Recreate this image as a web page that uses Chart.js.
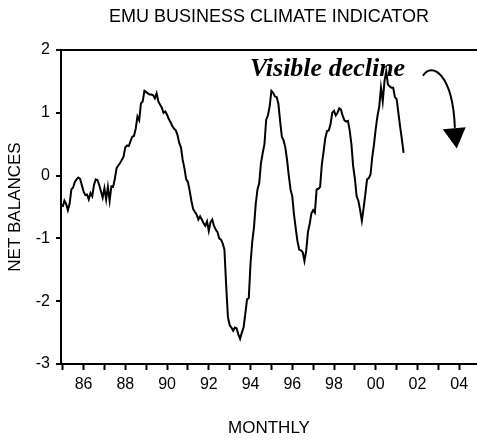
<!DOCTYPE html>
<html>
<head>
<meta charset="utf-8">
<script src="https://cdn.jsdelivr.net/npm/chart.js@4"></script>
<style>
  body { margin: 0; background: #fff; }
  #wrap { width: 477px; height: 440px; }
</style>
</head>
<body>
<div id="wrap"><canvas id="chart"></canvas></div>
<script>
// monthly series, first value is Jan 1985
var firstYear = 1985;
var netBalances = [
    -0.50, -0.40, -0.45, -0.55, -0.45, -0.22, -0.19, -0.10, -0.06, -0.03, -0.05, -0.15, // 85
    -0.25, -0.31, -0.30, -0.38, -0.28, -0.33, -0.15, -0.06, -0.07, -0.15, -0.25, -0.35, // 86
    -0.20, -0.38, -0.18, -0.40, -0.17, -0.18, -0.05, 0.12, 0.16, 0.20, 0.25, 0.30,      // 87
    0.45, 0.48, 0.47, 0.55, 0.62, 0.63, 0.75, 0.94, 0.88, 1.15, 1.18, 1.35,             // 88
    1.33, 1.31, 1.29, 1.29, 1.28, 1.23, 1.31, 1.18, 1.13, 1.08, 1.00, 1.02,             // 89
    0.97, 0.90, 0.85, 0.79, 0.75, 0.72, 0.65, 0.52, 0.45, 0.25, 0.12, -0.06,            // 90
    -0.10, -0.24, -0.40, -0.53, -0.58, -0.62, -0.70, -0.65, -0.70, -0.76, -0.80, -0.73, // 91
    -0.88, -0.74, -0.70, -0.80, -0.86, -0.90, -1.00, -1.02, -1.08, -1.18, -1.75, -2.25, // 92
    -2.38, -2.42, -2.47, -2.42, -2.43, -2.53, -2.60, -2.50, -2.42, -2.20, -1.97, -1.95, // 93
    -1.40, -1.05, -0.82, -0.45, -0.22, -0.12, 0.20, 0.36, 0.50, 0.89, 0.96, 1.10,       // 94
    1.35, 1.32, 1.26, 1.25, 1.15, 0.87, 0.62, 0.56, 0.45, 0.25, 0.00, -0.22,            // 95
    -0.33, -0.62, -0.84, -1.05, -1.18, -1.19, -1.22, -1.36, -1.20, -0.90, -0.77, -0.60, // 96
    -0.55, -0.59, -0.22, -0.21, -0.18, 0.18, 0.38, 0.60, 0.71, 0.72, 0.82, 1.00,        // 97
    1.03, 0.96, 1.00, 1.07, 1.05, 0.95, 0.88, 0.86, 0.87, 0.72, 0.50, 0.15,             // 98
    -0.05, -0.33, -0.40, -0.55, -0.72, -0.52, -0.30, -0.06, -0.04, 0.02, 0.30, 0.50,    // 99
    0.75, 0.95, 1.10, 1.40, 1.18, 1.50, 1.66, 1.45, 1.42, 1.40, 1.40, 1.25,             // 00
    1.22, 1.00, 0.78, 0.58, 0.36                                                         // 01
];
var xTickYears = [1986, 1988, 1990, 1992, 1994, 1996, 1998, 2000, 2002, 2004];
var xTickLabels = ['86', '88', '90', '92', '94', '96', '98', '00', '02', '04'];
var yTicks = [-3, -2, -1, 0, 1, 2];

var points = netBalances.map(function (v, i) {
    return { x: firstYear + i / 12, y: v };
});

// "Visible decline" note with its curved arrow, placed in data units
var note = { text: 'Visible decline', x: 1993.97, y: 1.58 };
var arrowCurve = [[2002.26, 1.59], [2002.69, 1.82], [2003.69, 1.62], [2003.79, 0.76]];
var arrowHead = [[2003.21, 0.74], [2004.31, 0.77], [2003.88, 0.43]];

var notePlugin = {
    id: 'note',
    afterDraw: function (chart) {
        var c = chart.ctx, sx = chart.scales.x, sy = chart.scales.y;
        var px = function (p) { return [sx.getPixelForValue(p[0]), sy.getPixelForValue(p[1])]; };
        c.save();
        c.fillStyle = '#000';
        c.strokeStyle = '#000';
        c.font = 'bold italic 26px "Liberation Serif", "Times New Roman", serif';
        c.textAlign = 'left';
        c.textBaseline = 'alphabetic';
        c.fillText(note.text, sx.getPixelForValue(note.x), sy.getPixelForValue(note.y));
        var a = arrowCurve.map(px);
        c.lineWidth = 2;
        c.beginPath();
        c.moveTo(a[0][0], a[0][1]);
        c.bezierCurveTo(a[1][0], a[1][1], a[2][0], a[2][1], a[3][0], a[3][1]);
        c.stroke();
        var h = arrowHead.map(px);
        c.beginPath();
        c.moveTo(h[0][0], h[0][1]);
        c.lineTo(h[1][0], h[1][1]);
        c.lineTo(h[2][0], h[2][1]);
        c.closePath();
        c.fill();
        c.restore();
    }
};

var sans = '"Liberation Sans", Arial, sans-serif';
var ctx = document.getElementById('chart').getContext('2d');
var chart = new Chart(ctx, {
    type: 'line',
    data: {
        datasets: [{
            data: points,
            borderColor: '#000',
            borderWidth: 2,
            pointRadius: 0,
            tension: 0,
            fill: false
        }]
    },
    options: {
        responsive: true,
        maintainAspectRatio: false,
        animation: false,
        layout: { padding: 0 },
        plugins: {
            legend: { display: false },
            tooltip: { enabled: false },
            title: {
                display: true,
                fullSize: false,
                text: 'EMU BUSINESS CLIMATE INDICATOR',
                color: '#000',
                font: { family: sans, size: 18, weight: 'normal' },
                padding: { top: 6, bottom: 22.4 }
            }
        },
        scales: {
            x: {
                type: 'linear',
                min: 1984.92,
                max: 2004.85,
                afterFit: function (s) { s.height = 76; },
                border: { display: true, color: '#000', width: 2 },
                grid: {
                    drawOnChartArea: false,
                    tickLength: 6,
                    tickColor: '#000',
                    tickWidth: 2
                },
                ticks: {
                    stepSize: 1,
                    includeBounds: false,
                    autoSkip: false,
                    maxRotation: 0,
                    padding: 5,
                    color: '#000',
                    font: { family: sans, size: 16 },
                    callback: function (v) {
                        var k = xTickYears.indexOf(v);
                        return k < 0 ? '' : xTickLabels[k];
                    }
                },
                title: {
                    display: true,
                    text: 'MONTHLY',
                    color: '#000',
                    font: { family: sans, size: 17 },
                    padding: { top: 25, bottom: 1 }
                }
            },
            y: {
                min: yTicks[0],
                max: yTicks[yTicks.length - 1],
                afterFit: function (s) { s.width = 61; },
                border: { display: true, color: '#000', width: 2 },
                grid: {
                    color: function (c) { return c.tick && c.tick.value === 2 ? '#000' : 'rgba(0,0,0,0)'; },
                    lineWidth: 2,
                    tickLength: 5,
                    tickColor: '#000',
                    tickWidth: 2
                },
                ticks: {
                    stepSize: 1,
                    padding: 6,
                    color: '#000',
                    font: { family: sans, size: 16 }
                },
                title: {
                    display: true,
                    text: 'NET BALANCES',
                    color: '#000',
                    font: { family: sans, size: 17 },
                    padding: { top: 5, bottom: 10 }
                }
            }
        }
    },
    plugins: [notePlugin]
});
</script>
</body>
</html>
